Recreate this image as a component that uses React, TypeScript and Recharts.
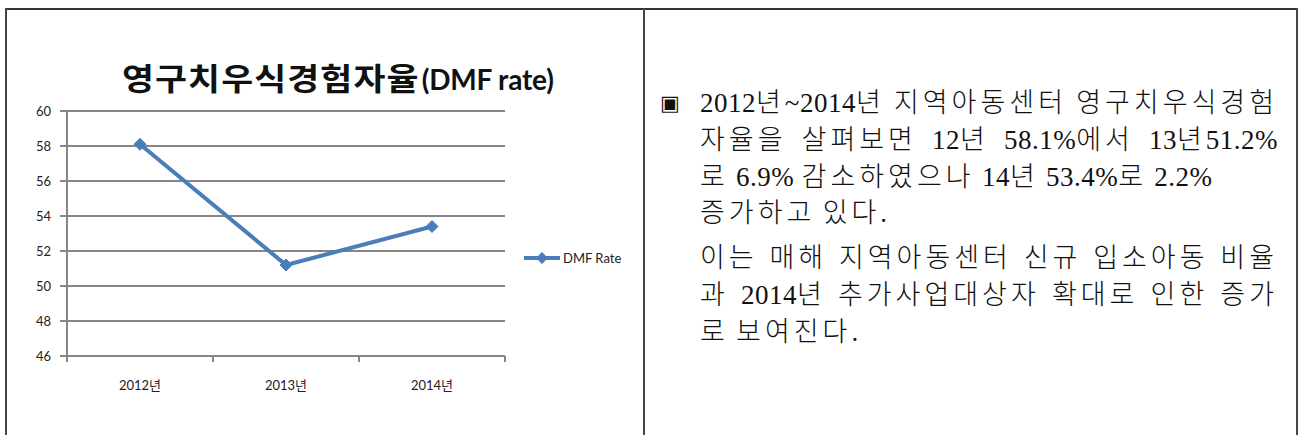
import { LineChart, Line, XAxis, YAxis, CartesianGrid, Legend } from "recharts";

const years = ["2012년", "2013년", "2014년"];
const dmfRate = [58.1, 51.2, 53.4];
const yTicks = [46, 48, 50, 52, 54, 56, 58, 60];

const noteLines = [
  { text: "2012년~2014년 지역아동센터 영구치우식경험", justify: true },
  { text: "자율을 살펴보면 12년 58.1%에서 13년51.2%", justify: true },
  { text: "로 6.9% 감소하였으나 14년 53.4%로 2.2%", justify: false },
  { text: "증가하고 있다.", justify: false },
  { text: "이는 매해 지역아동센터 신규 입소아동 비율", justify: true },
  { text: "과 2014년 추가사업대상자 확대로 인한 증가", justify: true },
  { text: "로 보여진다.", justify: false },
];
const noteTops = [88, 125, 162, 198, 243, 280, 317];

const chartData = years.map((year, i) => ({ year, rate: dmfRate[i] }));

const BLUE = "#4A7EBB";
const GRID = "#868686";
const FONT = "Lato, 'Noto Sans CJK KR', sans-serif";

const Diamond = (props: any) => {
  const { cx, cy } = props;
  if (cx == null || cy == null) return null;
  const r = 6;
  return (
    <polygon
      points={`${cx},${cy - r} ${cx + r},${cy} ${cx},${cy + r} ${cx - r},${cy}`}
      fill={BLUE}
      stroke={BLUE}
    />
  );
};

// category ticks sit between the bands, like the Excel original
const YearTick = (props: any) => {
  const { x, y, payload, index, visibleTicksCount } = props;
  const half = payload && payload.offset ? payload.offset : 0;
  return (
    <g>
      <line x1={x - half} y1={y} x2={x - half} y2={y + 6} stroke={GRID} strokeWidth={2} />
      {index === visibleTicksCount - 1 && (
        <line x1={x + half} y1={y} x2={x + half} y2={y + 6} stroke={GRID} strokeWidth={2} />
      )}
      <text x={x} y={y + 34} textAnchor="middle" fontSize={13} fill="#222" fontFamily={FONT}>
        {payload.value}
      </text>
    </g>
  );
};

const LegendBox = () => (
  <div style={{ display: "flex", alignItems: "center", fontFamily: FONT, fontSize: 13, color: "#222" }}>
    <svg width={38} height={14}>
      <line x1={1} y1={7} x2={37} y2={7} stroke={BLUE} strokeWidth={4} />
      <polygon points="19,1 25,7 19,13 13,7" fill={BLUE} />
    </svg>
    <span style={{ marginLeft: 2 }}>DMF Rate</span>
  </div>
);

// hangul runs get a wider spacing than digits, like the original document font
const spaced = (text: string) =>
  text.split(/([가-힣]+)/).map((part, k) =>
    /[가-힣]/.test(part) ? (
      <span key={k} style={{ letterSpacing: 4 }}>
        {part}
      </span>
    ) : (
      <span key={k} style={{ letterSpacing: 0.5 }}>
        {part}
      </span>
    )
  );

export default function App() {
  return (
    <div
      style={{
        position: "fixed",
        left: 0,
        top: 0,
        width: 1305,
        height: 435,
        background: "#fff",
        overflow: "hidden",
      }}
    >
      {/* table borders */}
      <div style={{ position: "absolute", left: 5, top: 8, width: 1293, height: 2, background: "#333" }} />
      <div style={{ position: "absolute", left: 5, top: 8, width: 2, height: 430, background: "#444" }} />
      <div style={{ position: "absolute", left: 643, top: 8, width: 2, height: 430, background: "#444" }} />
      <div style={{ position: "absolute", left: 1296, top: 8, width: 2, height: 430, background: "#444" }} />

      <div style={{ position: "absolute", left: 0, top: 0 }}>
        <LineChart width={640} height={430} data={chartData} margin={{ top: 111, right: 135, bottom: 44, left: 0 }}>
          <CartesianGrid vertical={false} stroke={GRID} strokeWidth={2} />
          <XAxis
            dataKey="year"
            scale="band"
            height={30}
            stroke={GRID}
            strokeWidth={2}
            tickLine={false}
            tickSize={0}
            tickMargin={0}
            tick={<YearTick />}
            interval={0}
          />
          <YAxis
            width={67}
            domain={[46, 60]}
            ticks={yTicks}
            interval={0}
            stroke={GRID}
            strokeWidth={2}
            tickSize={7}
            tickMargin={9}
            tick={{ fontSize: 13, fill: "#222", fontFamily: FONT }}
          />
          <Legend
            layout="horizontal"
            verticalAlign="middle"
            align="center"
            content={<LegendBox />}
            wrapperStyle={{ left: 523, top: 250, width: 120, right: "auto" }}
          />
          <Line
            dataKey="rate"
            name="DMF Rate"
            stroke={BLUE}
            strokeWidth={4}
            dot={<Diamond />}
            activeDot={false}
            isAnimationActive={false}
          />
        </LineChart>
      </div>

      <div
        style={{
          position: "absolute",
          left: 122,
          top: 54,
          whiteSpace: "nowrap",
          fontFamily: FONT,
          fontWeight: 700,
          color: "#111",
        }}
      >
        <span
          style={{
            display: "inline-block",
            fontSize: 31,
            letterSpacing: 1,
            transform: "scaleX(1.12)",
            transformOrigin: "left center",
            marginRight: 34,
          }}
        >
          영구치우식경험자율
        </span>
        <span style={{ fontSize: 28, letterSpacing: -0.2 }}>(DMF rate)</span>
      </div>

      <div
        style={{
          position: "absolute",
          left: 660,
          top: 88,
          fontSize: 21,
          lineHeight: "30px",
          fontFamily: "'DejaVu Sans', 'Noto Sans CJK KR', sans-serif",
          color: "#111",
        }}
      >
        ▣
      </div>

      {noteLines.map((line, i) => (
        <div
          key={i}
          style={{
            position: "absolute",
            left: 700,
            top: noteTops[i],
            width: 578,
            fontSize: 27,
            lineHeight: "30px",
            whiteSpace: "nowrap",
            fontFamily: "'Liberation Serif', 'Noto Sans CJK KR', serif",
            fontWeight: 300,
            color: "#111",
            textAlign: line.justify ? "justify" : "left",
            textAlignLast: line.justify ? "justify" : "left",
          }}
        >
          {spaced(line.text)}
        </div>
      ))}
    </div>
  );
}
